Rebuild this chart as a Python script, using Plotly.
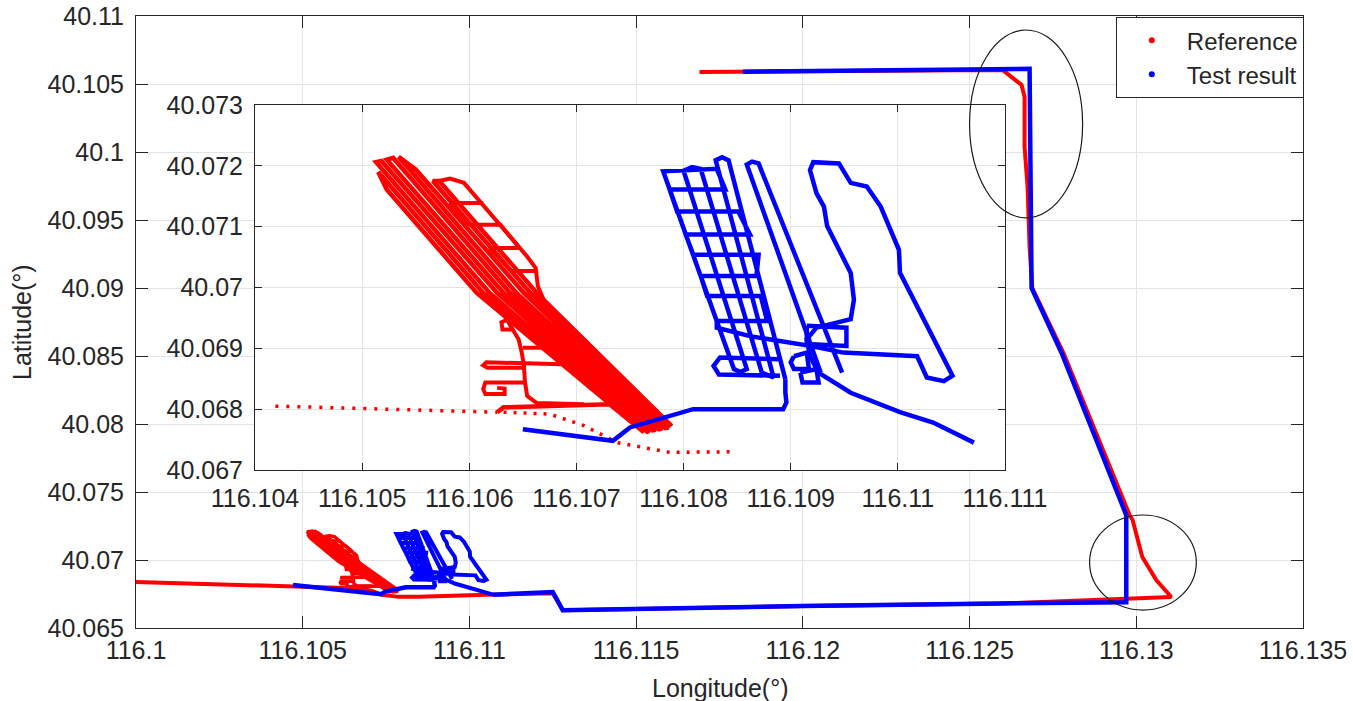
import plotly.graph_objects as go

RED = "rgb(255,0,0)"
BLUE = "rgb(0,0,255)"
INK = "#262626"
GRID = "#e4e4e4"
FONT = "Liberation Sans, Arial, Helvetica, sans-serif"
FS = 25

# ---------------- tick labels ----------------
main_lon_ticks = [116.1, 116.105, 116.11, 116.115, 116.12, 116.125, 116.13, 116.135]
main_lon_text = ["116.1", "116.105", "116.11", "116.115", "116.12", "116.125", "116.13", "116.135"]
main_lat_ticks = [40.065, 40.07, 40.075, 40.08, 40.085, 40.09, 40.095, 40.1, 40.105, 40.11]
main_lat_text = ["40.065", "40.07", "40.075", "40.08", "40.085", "40.09", "40.095", "40.1", "40.105", "40.11"]
zoom_lon_ticks = [116.104, 116.105, 116.106, 116.107, 116.108, 116.109, 116.11, 116.111]
zoom_lon_text = ["116.104", "116.105", "116.106", "116.107", "116.108", "116.109", "116.11", "116.111"]
zoom_lat_ticks = [40.067, 40.068, 40.069, 40.07, 40.071, 40.072, 40.073]
zoom_lat_text = ["40.067", "40.068", "40.069", "40.07", "40.071", "40.072", "40.073"]

# ---------------- Reference track ----------------
red_west_lon = [116.1000, 116.1021, 116.1042]
red_west_lat = [40.06838, 40.06822, 40.06805]
# sparse samples entering the test area
red_in_lon = [116.10419, 116.10520, 116.10626]
red_in_lat = [40.06805, 40.06800, 40.06795]
# back-and-forth lanes inside the test area
red_lanes_lon = [116.10626, 116.10632, 116.10731,
                 116.10763, 116.10607, 116.10523, 116.10515, 116.10613, 116.10766,
                 116.10768, 116.10619, 116.10513, 116.10518, 116.10626, 116.10771,
                 116.10774, 116.10632, 116.10523, 116.10529, 116.10638, 116.10777,
                 116.10780, 116.10644, 116.10534, 116.10550, 116.10651, 116.10783,
                 116.10786, 116.10657, 116.10566, 116.10572, 116.10663, 116.10789]
red_lanes_lat = [40.06795, 40.06803, 40.06808,
                 40.06762, 40.06991, 40.07161, 40.07190, 40.06991, 40.06763,
                 40.06764, 40.06991, 40.07206, 40.07208, 40.06991, 40.06765,
                 40.06766, 40.06991, 40.07210, 40.07213, 40.06991, 40.06767,
                 40.06768, 40.06991, 40.07215, 40.07194, 40.06991, 40.06769,
                 40.06770, 40.06991, 40.07175, 40.07175, 40.06991, 40.06772]
# smaller strokes: outer rail, cross links, western loops
red_loops_lon = [
    [116.10572, 116.10582, 116.10595, 116.10654, 116.10662, 116.10664, 116.10672],
    [116.10613, 116.10582, 116.10600, 116.10629, 116.10647, 116.10619, 116.10639, 116.10663],
    [116.10633, 116.10641, 116.10646, 116.10649, 116.10651, 116.10652, 116.10654, 116.10663,
     116.10707],
    [116.10637, 116.10630, 116.10631, 116.10641],
    [116.10650, 116.10675],
    [116.10686, 116.10616, 116.10613, 116.10617, 116.10652],
    [116.10652, 116.10615, 116.10613, 116.10615, 116.10633, 116.10633, 116.10626],
]
red_loops_lat = [
    [40.07175, 40.07179, 40.07172, 40.07051, 40.07032, 40.07002, 40.06969],
    [40.07139, 40.07139, 40.07103, 40.07103, 40.07065, 40.07065, 40.07027, 40.07027],
    [40.06953, 40.06931, 40.06915, 40.06893, 40.06871, 40.06844, 40.06822, 40.06810,
     40.06808],
    [40.06948, 40.06943, 40.06931, 40.06931],
    [40.06901, 40.06901],
    [40.06874, 40.06877, 40.06872, 40.06868, 40.06868],
    [40.06844, 40.06844, 40.06833, 40.06825, 40.06825, 40.06834, 40.06835],
]
# sparse samples leaving the test area
red_out_lon = [116.10632, 116.10675, 116.10707, 116.10738, 116.10787, 116.10848]
red_out_lat = [40.06795, 40.06792, 40.06773, 40.06745, 40.06729, 40.06730]
# remainder of the route
red_east_lon = [116.10848, 116.1105, 116.1125, 116.1128, 116.1150, 116.1200, 116.1259, 116.1297,
                116.13105, 116.1306, 116.13018, 116.12989, 116.1298, 116.12782, 116.12688,
                116.1268, 116.12674, 116.12665, 116.12665, 116.12656, 116.12599, 116.1169]
red_east_lat = [40.06730, 40.06745, 40.06755, 40.0663, 40.0664, 40.06662, 40.0668, 40.0672,
                40.06728, 40.06853, 40.07022, 40.07294, 40.0733, 40.0852, 40.0900,
                40.0930, 40.09743, 40.10037, 40.10404, 40.10493, 40.10603, 40.10588]

# ---------------- Test result track ----------------
blue_west_lon = [116.10471, 116.1058, 116.10650]
blue_west_lat = [40.06816, 40.0679, 40.06767]
blue_in_lon = [116.10650, 116.10734, 116.10750, 116.10787, 116.10809, 116.10893, 116.10896,
               116.10895, 116.10895]
blue_in_lat = [40.06767, 40.06748, 40.06770, 40.06789, 40.06800, 40.06800, 40.06811,
               40.06827, 40.06849]
blue_loops_lon = [
    [116.10895, 116.10842, 116.10836, 116.10830, 116.10884, 116.10873, 116.10816, 116.10808,
     116.10800, 116.10859, 116.10853, 116.10847, 116.10781, 116.10831, 116.10839, 116.10787,
     116.10794, 116.10851, 116.10862, 116.10802, 116.10809, 116.10870, 116.10868, 116.10816,
     116.10822, 116.10872, 116.10878, 116.10831, 116.10831, 116.10862, 116.10918, 116.10949,
     116.11018, 116.11027, 116.11043, 116.11051, 116.11002, 116.11001, 116.10984, 116.10971,
     116.10956, 116.10945, 116.10921, 116.10918, 116.10924, 116.10931, 116.10934, 116.10956,
     116.10959, 116.10956, 116.10924, 116.10915, 116.10918, 116.10926, 116.10956, 116.11002,
     116.11033, 116.11071],
    [116.10928, 116.10859, 116.10864, 116.10870, 116.10948],
    [116.10890, 116.10834, 116.10828, 116.10833, 116.10890],
    [116.10915, 116.10952, 116.10952, 116.10915, 116.10915],
    [116.10903, 116.10915, 116.10917, 116.10903, 116.10900, 116.10903],
    [116.10909, 116.10924, 116.10926, 116.10911, 116.10909],
]
blue_loops_lat = [
    [40.06849, 40.07209, 40.07214, 40.07209, 40.06852, 40.06860, 40.07195, 40.07198,
     40.07192, 40.06866, 40.06861, 40.06866, 40.07191, 40.07195, 40.07161, 40.07161,
     40.07125, 40.07125, 40.07087, 40.07087, 40.07054, 40.07054, 40.07019, 40.07019,
     40.06986, 40.06986, 40.06945, 40.06945, 40.06934, 40.06920, 40.06904, 40.06893,
     40.06887, 40.06852, 40.06846, 40.06855, 40.07024, 40.07062, 40.07133, 40.07166,
     40.07172, 40.07204, 40.07206, 40.07193, 40.07155, 40.07133, 40.07101, 40.07024,
     40.06980, 40.06948, 40.06934, 40.06915, 40.06887, 40.06860, 40.06827, 40.06795,
     40.06778, 40.06745],
    [40.06860, 40.07202, 40.07207, 40.07204, 40.06860],
    [40.06882, 40.06885, 40.06871, 40.06857, 40.06855],
    [40.06937, 40.06934, 40.06904, 40.06907, 40.06937],
    [40.06887, 40.06893, 40.06866, 40.06866, 40.06877, 40.06887],
    [40.06860, 40.06866, 40.06844, 40.06844, 40.06860],
]
blue_east_lon = [116.11071, 116.1125, 116.1128, 116.1150, 116.1200, 116.1259, 116.1297, 116.1297,
                 116.12776, 116.12686, 116.1268, 116.1182]
blue_east_lat = [40.06745, 40.06765, 40.0663, 40.0664, 40.06662, 40.0668, 40.0669, 40.0733,
                 40.08522, 40.0900, 40.10612, 40.1059]

# highlighted turns (lon0, lon1, lat0, lat1)
turn_north = [116.1250, 116.12839, 40.09515, 40.10897]
turn_south = [116.12860, 116.13180, 40.06632, 40.07331]


def strokes(parts):
    out = []
    for i, p in enumerate(parts):
        if i:
            out.append(None)
        out.extend(p)
    return out


def path(xs, ys, color, width, axes, dash="solid"):
    xa, ya = axes
    return go.Scatter(x=xs, y=ys, mode="lines", xaxis=xa, yaxis=ya, showlegend=False,
                      hoverinfo="skip", connectgaps=False,
                      line=dict(color=color, width=width, dash=dash))


MAIN = ("x", "y")
ZOOM = ("x2", "y2")

red_all_lon = strokes([red_lanes_lon] + red_loops_lon)
red_all_lat = strokes([red_lanes_lat] + red_loops_lat)

fig = go.Figure()

# overview: full routes
fig.add_trace(path(red_west_lon + red_in_lon[1:] + [None] + red_out_lon + red_east_lon[1:],
                   red_west_lat + red_in_lat[1:] + [None] + red_out_lat + red_east_lat[1:],
                   RED, 4, MAIN))
fig.add_trace(path(red_all_lon, red_all_lat, RED, 3.5, MAIN))
fig.add_trace(path(blue_west_lon + blue_in_lon[1:] + [None] + blue_east_lon,
                   blue_west_lat + blue_in_lat[1:] + [None] + blue_east_lat,
                   BLUE, 4.5, MAIN))
fig.add_trace(path(strokes(blue_loops_lon), strokes(blue_loops_lat), BLUE, 4, MAIN))

# zoomed view of the test area
fig.add_trace(path(red_in_lon, red_in_lat, RED, 3.5, ZOOM, dash="3px,8px"))
fig.add_trace(path(red_out_lon, red_out_lat, RED, 3.5, ZOOM, dash="3px,7px"))
fig.add_trace(path(red_lanes_lon, red_lanes_lat, RED, 4.5, ZOOM))
fig.add_trace(path(strokes(red_loops_lon), strokes(red_loops_lat), RED, 4, ZOOM))
fig.add_trace(path(blue_in_lon, blue_in_lat, BLUE, 4.5, ZOOM))
fig.add_trace(path(strokes(blue_loops_lon), strokes(blue_loops_lat), BLUE, 4.5, ZOOM))

# legend entries (sample markers)
fig.add_trace(go.Scatter(x=[None], y=[None], mode="markers", name="Reference",
                         marker=dict(color=RED, size=6)))
fig.add_trace(go.Scatter(x=[None], y=[None], mode="markers", name="Test result",
                         marker=dict(color=BLUE, size=6)))

for box in (turn_north, turn_south):
    fig.add_shape(type="circle", xref="x", yref="y", x0=box[0], x1=box[1], y0=box[2], y1=box[3],
                  line=dict(color="#1a1a1a", width=1.2), layer="above")

# axis titles
fig.add_annotation(text="Longitude(°)", xref="paper", yref="paper", x=0.5, y=-0.098,
                   xanchor="center", yanchor="middle", showarrow=False,
                   font=dict(family=FONT, size=FS, color=INK))
fig.add_annotation(text="Latitude(°)", xref="paper", yref="paper", x=-0.0977, y=0.5,
                   xanchor="center", yanchor="middle", showarrow=False, textangle=-90,
                   font=dict(family=FONT, size=FS, color=INK))

axis_common = dict(showline=True, linecolor=INK, linewidth=1, mirror="ticks", ticks="inside",
                   tickcolor=INK, showgrid=True, gridcolor=GRID, gridwidth=1, zeroline=False,
                   automargin=False, tickfont=dict(family=FONT, size=FS, color=INK))

eps = 1e-9
fig.update_layout(
    width=1353, height=701, autosize=False,
    margin=dict(l=136, r=50, t=16, b=73),
    paper_bgcolor="white", plot_bgcolor="white",
    font=dict(family=FONT, size=FS, color=INK),
    xaxis=dict(domain=[0, 1], range=[116.1 - eps, 116.135 + eps], tickvals=main_lon_ticks,
               ticktext=main_lon_text, ticklen=12, ticklabelstandoff=0, **axis_common),
    yaxis=dict(domain=[0, 1], range=[40.065 - eps, 40.11 + eps], tickvals=main_lat_ticks,
               ticktext=main_lat_text, ticklen=12, ticklabelstandoff=6, **axis_common),
    xaxis2=dict(domain=[0.10197, 0.74464], anchor="y2", range=[116.104 - eps, 116.111 + eps],
                tickvals=zoom_lon_ticks, ticktext=zoom_lon_text, ticklen=7, ticklabelstandoff=6,
                **axis_common),
    yaxis2=dict(domain=[0.25817, 0.85458], anchor="x2", range=[40.067 - eps, 40.073 + eps],
                tickvals=zoom_lat_ticks, ticktext=zoom_lat_text, ticklen=7, ticklabelstandoff=6,
                **axis_common),
    legend=dict(x=1.0007, xanchor="right", y=0.9983, yanchor="top", bgcolor="white",
                bordercolor=INK, borderwidth=1, font=dict(family=FONT, size=24, color=INK),
                itemwidth=60, tracegroupgap=0),
)

fig.write_html("out.html", config={"displayModeBar": False})
